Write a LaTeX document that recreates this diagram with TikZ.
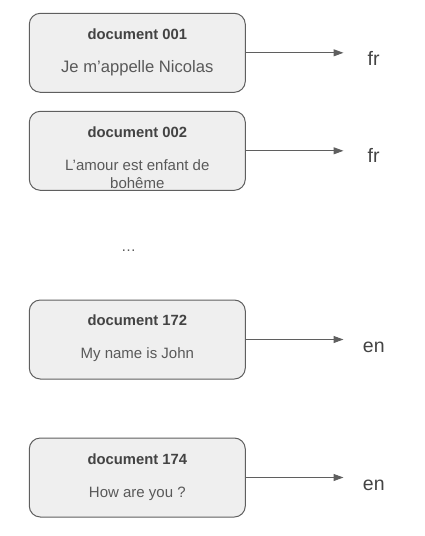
\documentclass[tikz,border=0pt]{standalone}
\usepackage{fontspec}
\setmainfont{Liberation Sans}
\usetikzlibrary{arrows.meta}
\definecolor{boxfill}{HTML}{EFEFEF}
\definecolor{boxdraw}{HTML}{5F5F5F}
\definecolor{titlecol}{HTML}{434343}
\definecolor{bodycol}{HTML}{595959}
\definecolor{arrowcol}{HTML}{5F5F5F}
\tikzset{
  docbox/.style={draw=boxdraw, fill=boxfill, line width=1pt, rounded corners=11pt,
    minimum width=216pt, minimum height=79pt, inner sep=0pt},
  doctitle/.style={anchor=base, inner sep=0pt, text=titlecol, font=\fontsize{14.8pt}{18pt}\selectfont\bfseries},
  docbody/.style={anchor=base, inner sep=0pt, text=bodycol, font=\fontsize{15pt}{18pt}\selectfont},
  langlabel/.style={anchor=base, inner sep=0pt, text=titlecol, font=\fontsize{19.5pt}{22pt}\selectfont},
  langarrow/.style={draw=arrowcol, line width=1pt, -{Triangle[length=10pt,width=7pt]}}
}
\begin{document}
\begin{tikzpicture}[x=1pt,y=-1pt]
\useasboundingbox (0,0) rectangle (425,536);
% boxes
\node[docbox] (b1) at (137.3,52.8) {};
\node[docbox] (b2) at (137.3,150.8) {};
\node[docbox] (b3) at (137.3,339.5) {};
\node[docbox] (b4) at (137.3,477.5) {};
% texts
\node[doctitle] (t1) at (137.3,39.3) {document 001};
\node[docbody, font=\fontsize{16.6pt}{20pt}\selectfont] (s1) at (137.3,72.6) {Je m’appelle Nicolas};
\node[doctitle] (t2) at (137.3,137.3) {document 002};
\node[docbody] (s2a) at (137.3,170) {L’amour est enfant de};
\node[docbody] (s2b) at (137.3,188.3) {bohême};
\node[doctitle] (t3) at (137.3,325.7) {document 172};
\node[docbody] (s3) at (137.3,358.3) {My name is John};
\node[doctitle] (t4) at (137.3,464.3) {document 174};
\node[docbody] (s4) at (137.3,497.3) {How are you ?};
\node[docbody] (dots) at (128.5,251) {…};
% arrow ends
\coordinate (e1) at (343.5,52.8);
\coordinate (e2) at (343.5,150.8);
\coordinate (e3) at (343.5,339.5);
\coordinate (e4) at (343.5,477.5);
\draw[langarrow] (b1.east) -- (e1);
\draw[langarrow] (b2.east) -- (e2);
\draw[langarrow] (b3.east) -- (e3);
\draw[langarrow] (b4.east) -- (e4);
% labels
\node[langlabel] (l1) at (373.7,65) {fr};
\node[langlabel] (l2) at (373.7,162.7) {fr};
\node[langlabel] (l3) at (373.8,352.3) {en};
\node[langlabel] (l4) at (373.8,490) {en};
\end{tikzpicture}
\end{document}
